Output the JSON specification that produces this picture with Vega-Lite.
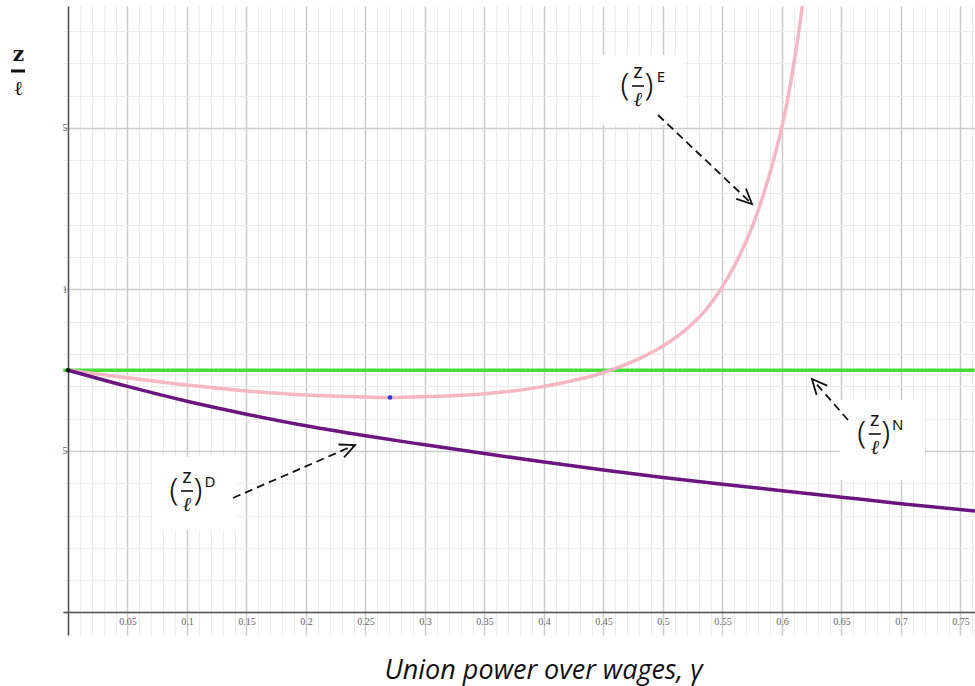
{
  "$schema": "https://vega.github.io/schema/vega-lite/v6.json",
  "width": 912,
  "height": 629,
  "autosize": {"type": "none"},
  "padding": {"left": 63, "top": 6, "right": 0, "bottom": 51},
  "background": "white",
  "config": {
    "view": {"stroke": null},
    "axis": {"ticks": false, "domainColor": "#555555", "domainWidth": 1.5, "labelFont": "Liberation Serif", "labelFontSize": 10, "labelColor": "#666666"}
  },
  "datasets": {
    "curves": [
      {"g": -0.004, "v": 0.75, "c": "N"},
      {"g": 0.762, "v": 0.75, "c": "N"},
      {"g": 0, "v": 0.75, "c": "E"},
      {"g": 0.05, "v": 0.727, "c": "E"},
      {"g": 0.1, "v": 0.704, "c": "E"},
      {"g": 0.15, "v": 0.686, "c": "E"},
      {"g": 0.2, "v": 0.673, "c": "E"},
      {"g": 0.25, "v": 0.667, "c": "E"},
      {"g": 0.2706, "v": 0.6656, "c": "E"},
      {"g": 0.3, "v": 0.668, "c": "E"},
      {"g": 0.35, "v": 0.677, "c": "E"},
      {"g": 0.4, "v": 0.7, "c": "E"},
      {"g": 0.45, "v": 0.743, "c": "E"},
      {"g": 0.48, "v": 0.786, "c": "E"},
      {"g": 0.5, "v": 0.825, "c": "E"},
      {"g": 0.52, "v": 0.878, "c": "E"},
      {"g": 0.54, "v": 0.955, "c": "E"},
      {"g": 0.555, "v": 1.04, "c": "E"},
      {"g": 0.565, "v": 1.11, "c": "E"},
      {"g": 0.575, "v": 1.195, "c": "E"},
      {"g": 0.585, "v": 1.3, "c": "E"},
      {"g": 0.595, "v": 1.43, "c": "E"},
      {"g": 0.603, "v": 1.555, "c": "E"},
      {"g": 0.61, "v": 1.7, "c": "E"},
      {"g": 0.615, "v": 1.82, "c": "E"},
      {"g": 0.619, "v": 1.93, "c": "E"},
      {"g": 0, "v": 0.75, "c": "D"},
      {"g": 0.05, "v": 0.7, "c": "D"},
      {"g": 0.1, "v": 0.654, "c": "D"},
      {"g": 0.15, "v": 0.614, "c": "D"},
      {"g": 0.2, "v": 0.578, "c": "D"},
      {"g": 0.25, "v": 0.547, "c": "D"},
      {"g": 0.3, "v": 0.519, "c": "D"},
      {"g": 0.35, "v": 0.492, "c": "D"},
      {"g": 0.4, "v": 0.466, "c": "D"},
      {"g": 0.45, "v": 0.441, "c": "D"},
      {"g": 0.5, "v": 0.418, "c": "D"},
      {"g": 0.55, "v": 0.397, "c": "D"},
      {"g": 0.6, "v": 0.377, "c": "D"},
      {"g": 0.65, "v": 0.357, "c": "D"},
      {"g": 0.7, "v": 0.337, "c": "D"},
      {"g": 0.7622, "v": 0.3142, "c": "D"}
    ],
    "dots": [
      {"g": 0, "v": 0.75, "k": "origin"},
      {"g": 0.2706, "v": 0.6656, "k": "min"}
    ],
    "boxes": [
      {"g": 0.447, "g2": 0.5185, "v": 1.726, "v2": 1.509},
      {"g": 0.0706, "g2": 0.142, "v": 0.4814, "v2": 0.2554},
      {"g": 0.6487, "g2": 0.7202, "v": 0.6579, "v2": 0.4102}
    ],
    "labels": [
      {"g": 0.479, "v": 1.63, "s": "E"},
      {"g": 0.1, "v": 0.3762, "s": "D"},
      {"g": 0.678, "v": 0.5526, "s": "N"}
    ],
    "ybar": [
      {"g": -0.0479, "g2": -0.0361, "v": 1.6765}
    ],
    "arrows": [
      {"g": 0.4958, "v": 1.5402, "g2": 0.5748, "v2": 1.2647},
      {"g": 0.1387, "v": 0.3545, "g2": 0.2412, "v2": 0.5186},
      {"g": 0.6555, "v": 0.596, "g2": 0.6252, "v2": 0.7229}
    ],
    "heads": [
      {"g": 0.5748, "v": 1.2647, "a": 43.4},
      {"g": 0.2412, "v": 0.5186, "a": -23.5},
      {"g": 0.6252, "v": 0.7229, "a": 228.7}
    ]
  },
  "encoding": {
    "x": {"field": "g", "type": "quantitative",
      "scale": {"domain": [-0.0042, 0.7622], "nice": false, "zero": false},
      "axis": {
        "orient": "bottom", "offset": -23, "title": "Union power over wages, γ",
        "values": [0,0.01,0.02,0.03,0.04,0.05,0.06,0.07,0.08,0.09,0.1,0.11,0.12,0.13,0.14,0.15,0.16,0.17,0.18,0.19,0.2,0.21,0.22,0.23,0.24,0.25,0.26,0.27,0.28,0.29,0.3,0.31,0.32,0.33,0.34,0.35,0.36,0.37,0.38,0.39,0.4,0.41,0.42,0.43,0.44,0.45,0.46,0.47,0.48,0.49,0.5,0.51,0.52,0.53,0.54,0.55,0.56,0.57,0.58,0.59,0.6,0.61,0.62,0.63,0.64,0.65,0.66,0.67,0.68,0.69,0.7,0.71,0.72,0.73,0.74,0.75,0.76],
        "labelExpr": "datum.value > 0.001 && round(datum.value*100) % 5 === 0 ? format(datum.value, '~g') : ''",
        "labelPadding": 4, "labelBaseline": "top", "labelFlush": false, "labelOverlap": false,
        "grid": true,
        "gridColor": {"condition": {"test": "round(datum.value*100) % 5 === 0", "value": "#cccccc"}, "value": "#ebebeb"},
        "gridWidth": {"condition": {"test": "round(datum.value*100) % 5 === 0", "value": 1.5}, "value": 1},
        "titleFont": "Open Sans", "titleFontStyle": "italic", "titleFontWeight": "normal", "titleFontSize": 27, "titleColor": "#111111",
        "titleX": 480, "titleY": 58, "titleBaseline": "middle", "titleAlign": "center", "titleAnchor": null
      }
    },
    "y": {"field": "v", "type": "quantitative",
      "scale": {"domain": [-0.0697, 1.8777], "nice": false, "zero": false},
      "axis": {
        "orient": "left", "offset": -5, "title": ["z", "ℓ"],
        "values": [0,0.1,0.2,0.3,0.4,0.5,0.6,0.7,0.8,0.9,1,1.1,1.2,1.3,1.4,1.5,1.6,1.7,1.8],
        "labelExpr": "datum.value === 1.5 ? '5' : datum.value === 1 ? '1' : datum.value === 0.5 ? '5' : ''",
        "labelPadding": 1, "labelFlush": false, "labelOverlap": false,
        "grid": true,
        "gridColor": {"condition": {"test": "round(datum.value*10) % 5 === 0", "value": "#cccccc"}, "value": "#ebebeb"},
        "gridWidth": {"condition": {"test": "round(datum.value*10) % 5 === 0", "value": 1.5}, "value": 1},
        "titleFont": "DejaVu Serif", "titleFontWeight": "bold", "titleFontSize": 20, "titleColor": "#111111",
        "titleAngle": 0, "titleX": -50, "titleY": 48, "titleBaseline": "middle", "titleAlign": "center", "titleLineHeight": 34, "titleAnchor": null
      }
    }
  },
  "resolve": {"scale": {"color": "independent"}},
  "layer": [
    {
      "data": {"name": "boxes"},
      "mark": {"type": "rect", "fill": "white", "stroke": null},
      "encoding": {"x2": {"field": "g2"}, "y2": {"field": "v2"}}
    },
    {
      "data": {"name": "curves"},
      "mark": {"type": "line", "interpolate": "monotone", "clip": true, "strokeWidth": 3.5},
      "encoding": {
        "color": {"field": "c", "type": "nominal", "legend": null,
          "scale": {"domain": ["N", "E", "D"], "range": ["#45dc35", "#f5b7c3", "#6a1580"]}},
        "order": {"field": "g", "type": "quantitative"}
      }
    },
    {
      "data": {"name": "dots"},
      "mark": {"type": "point", "filled": true, "opacity": 1},
      "encoding": {
        "color": {"field": "k", "type": "nominal", "legend": null,
          "scale": {"domain": ["origin", "min"], "range": ["#111111", "#2a36e0"]}},
        "size": {"value": 22}
      }
    },
    {
      "data": {"name": "arrows"},
      "mark": {"type": "rule", "color": "#111111", "strokeWidth": 1.8, "strokeDash": [8, 5]},
      "encoding": {"x2": {"field": "g2"}, "y2": {"field": "v2"}}
    },
    {
      "data": {"name": "heads"},
      "mark": {"type": "point", "shape": "M -1 -0.47 L 0 0 L -1 0.47", "filled": false, "stroke": "#111111", "strokeWidth": 1.8, "opacity": 1, "size": 900},
      "encoding": {"angle": {"field": "a", "type": "quantitative", "scale": null}}
    },
    {
      "data": {"name": "ybar"},
      "mark": {"type": "rule", "color": "#111111", "strokeWidth": 3, "clip": false},
      "encoding": {"x2": {"field": "g2"}}
    },
    {
      "data": {"name": "labels"},
      "mark": {"type": "text", "text": "z", "font": "Noto Sans", "fontSize": 20, "dy": -14, "align": "center", "baseline": "middle", "color": "#111111"}
    },
    {
      "data": {"name": "labels"},
      "mark": {"type": "tick", "orient": "horizontal", "size": 12, "thickness": 1.6, "color": "#111111", "opacity": 1}
    },
    {
      "data": {"name": "labels"},
      "mark": {"type": "text", "text": "ℓ", "font": "DejaVu Serif", "fontStyle": "italic", "fontSize": 20, "dy": 14, "align": "center", "baseline": "middle", "color": "#111111"}
    },
    {
      "data": {"name": "labels"},
      "mark": {"type": "text", "text": "(", "font": "Noto Sans", "fontSize": 32, "fontWeight": 300, "dx": -13, "dy": -1, "align": "center", "baseline": "middle", "color": "#111111"}
    },
    {
      "data": {"name": "labels"},
      "mark": {"type": "text", "text": ")", "font": "Noto Sans", "fontSize": 32, "fontWeight": 300, "dx": 11, "dy": -1, "align": "center", "baseline": "middle", "color": "#111111"}
    },
    {
      "data": {"name": "labels"},
      "mark": {"type": "text", "font": "Noto Sans", "fontSize": 15, "dx": 23, "dy": -9, "align": "center", "baseline": "middle", "color": "#111111"},
      "encoding": {"text": {"field": "s"}}
    }
  ]
}
